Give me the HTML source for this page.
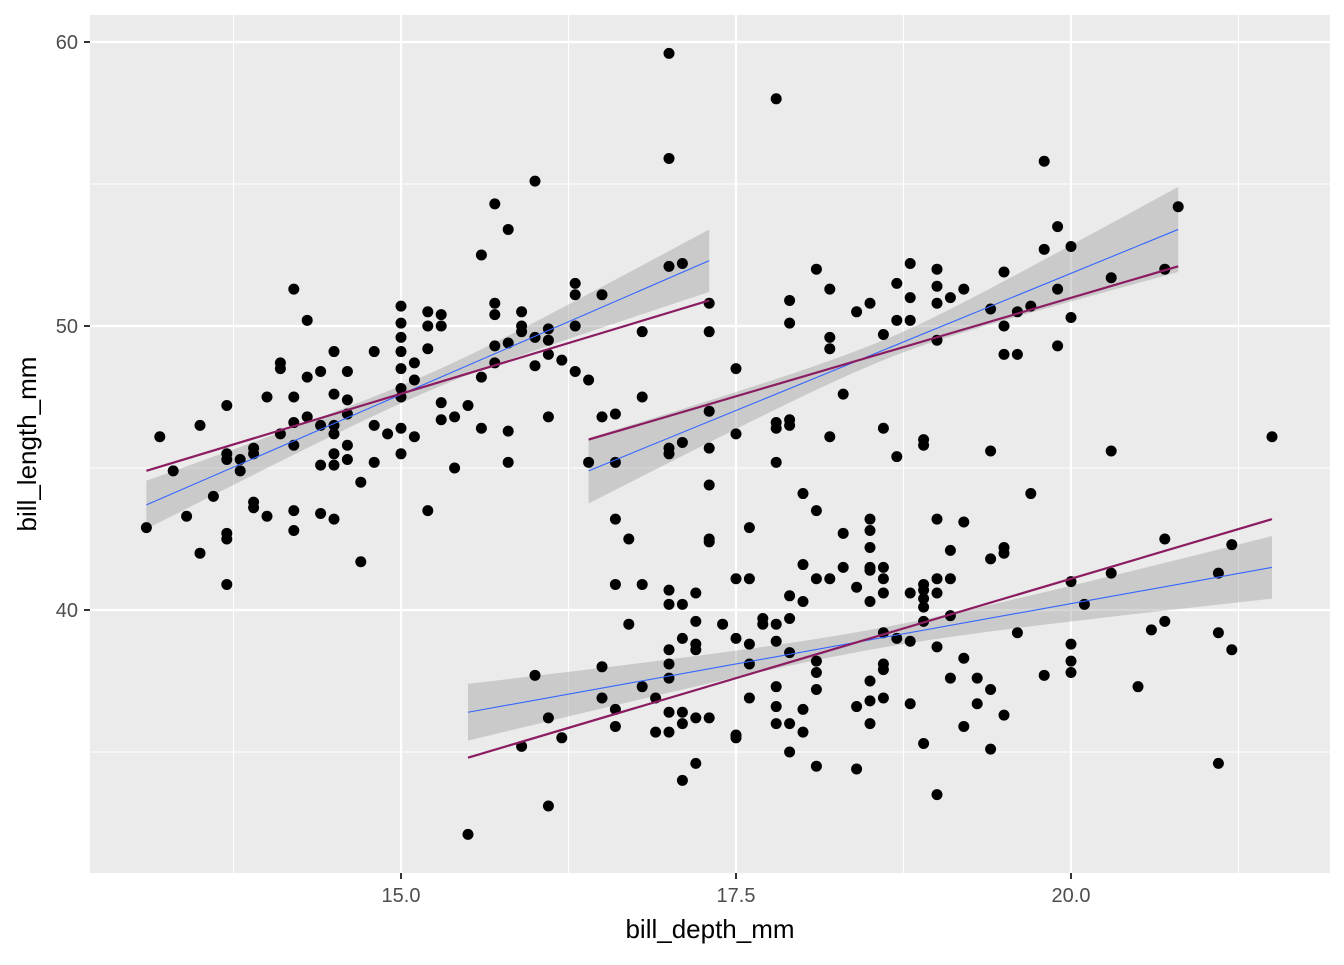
<!DOCTYPE html>
<html><head><meta charset="utf-8"><style>
body{margin:0;background:#fff;}
svg text{font-family:"Liberation Sans",sans-serif;}
</style></head><body>
<svg id="chart" width="1344" height="960" xmlns="http://www.w3.org/2000/svg">
<rect x="90" y="15" width="1240" height="858" fill="#ebebeb"/>
<g id="grid"></g><g id="bands"></g><g id="points"></g><g id="lines"></g><g id="axes"></g>
<text x="710" y="938" text-anchor="middle" font-size="26" fill="#000">bill_depth_mm</text>
<text transform="translate(36,444) rotate(-90)" text-anchor="middle" font-size="26" fill="#000">bill_length_mm</text>
</svg>
<script>
const depth = [13.1,13.2,13.3,13.4,13.5,13.5,13.6,13.7,13.7,13.7,13.7,13.7,13.7,13.8,13.8,13.9,13.9,13.9,13.9,14.0,14.0,14.1,14.1,14.1,14.2,14.2,14.2,14.2,14.2,14.2,14.3,14.3,14.3,14.4,14.4,14.4,14.4,14.5,14.5,14.5,14.5,14.5,14.5,14.5,14.6,14.6,14.6,14.6,14.6,14.7,14.7,14.8,14.8,14.8,14.9,15.0,15.0,15.0,15.0,15.0,15.0,15.0,15.0,15.0,15.1,15.1,15.1,15.2,15.2,15.2,15.2,15.3,15.3,15.3,15.3,15.4,15.4,15.5,15.6,15.6,15.6,15.7,15.7,15.7,15.7,15.7,15.8,15.8,15.8,15.8,15.9,15.9,15.9,16.0,16.0,16.0,16.1,16.1,16.1,16.1,16.2,16.3,16.3,16.3,16.3,16.4,16.5,16.5,16.6,16.8,16.8,17.0,17.1,17.3,17.3,17.0,17.0,
16.4,16.6,17.0,17.0,17.1,17.3,17.3,17.3,17.5,17.5,17.8,17.8,17.8,17.8,17.9,17.9,17.9,17.9,18.1,18.2,18.2,18.2,18.2,18.3,18.4,18.5,18.6,18.6,18.7,18.7,18.7,18.8,18.8,18.8,18.9,18.9,19.0,19.0,19.0,19.0,19.1,19.2,19.4,19.4,19.5,19.5,19.5,19.6,19.6,19.7,19.7,19.8,19.8,19.9,19.9,19.9,20.0,20.0,20.3,20.3,20.7,20.8,21.5,
15.5,15.9,16.0,16.1,16.1,16.2,16.5,16.5,16.6,16.6,16.6,16.6,16.7,16.7,16.8,16.8,16.9,16.9,17.0,17.0,17.0,17.0,17.0,17.0,17.0,17.1,17.1,17.1,17.1,17.1,17.2,17.2,17.2,17.2,17.2,17.2,17.3,17.3,17.3,17.4,17.5,17.5,17.5,17.5,17.6,17.6,17.6,17.6,17.6,17.7,17.7,17.8,17.8,17.8,17.8,17.8,17.9,17.9,17.9,17.9,17.9,18.0,18.0,18.0,18.0,18.0,18.1,18.1,18.1,18.1,18.1,18.1,18.2,18.3,18.3,18.4,18.4,18.4,18.5,18.5,18.5,18.5,18.5,18.5,18.5,18.5,18.5,18.6,18.6,18.6,18.6,18.6,18.6,18.6,18.7,18.8,18.8,18.8,18.9,18.9,18.9,18.9,18.9,18.9,19.0,19.0,19.0,19.0,19.0,19.1,19.1,19.1,19.1,19.2,19.2,19.2,19.3,19.3,19.4,19.4,19.4,19.5,19.5,19.5,19.6,19.8,20.0,20.0,20.0,20.0,20.1,20.3,20.5,20.6,20.7,20.7,21.1,21.1,21.1,21.2,21.2];
const length = [42.9,46.1,44.9,43.3,46.5,42.0,44.0,47.2,45.5,45.3,42.7,42.5,40.9,45.3,44.9,45.7,45.5,43.8,43.6,47.5,43.3,48.7,48.5,46.2,51.3,47.5,46.6,45.8,43.5,42.8,50.2,48.2,46.8,48.4,46.5,45.1,43.4,49.1,47.6,46.5,46.2,45.5,45.1,43.2,48.4,47.4,46.9,45.8,45.3,44.5,41.7,49.1,46.5,45.2,46.2,50.7,50.1,49.6,49.1,48.5,47.8,47.5,46.4,45.5,48.7,48.1,46.1,50.5,50.0,49.2,43.5,50.4,50.0,47.3,46.7,46.8,45.0,47.2,52.5,48.2,46.4,54.3,50.8,50.4,49.3,48.7,53.4,49.4,46.3,45.2,50.5,50.0,49.8,55.1,49.6,48.6,49.9,49.5,49.0,46.8,48.8,51.5,51.1,50.0,48.4,48.1,51.1,46.8,46.9,49.8,47.5,52.1,52.2,50.8,49.8,59.6,55.9,
45.2,45.2,45.7,45.5,45.9,47.0,45.7,44.4,48.5,46.2,58.0,46.6,46.4,45.2,50.9,50.1,46.7,46.5,52.0,51.3,49.6,49.2,46.1,47.6,50.5,50.8,49.7,46.4,51.5,50.2,45.4,52.2,51.0,50.2,46.0,45.8,52.0,51.4,50.8,49.5,51.0,51.3,50.6,45.6,51.9,50.0,49.0,50.5,49.0,50.7,44.1,55.8,52.7,53.5,51.3,49.3,52.8,50.3,51.7,45.6,52.0,54.2,46.1,
32.1,35.2,37.7,36.2,33.1,35.5,38.0,36.9,43.2,40.9,36.5,35.9,42.5,39.5,40.9,37.3,36.9,35.7,40.7,40.2,38.6,38.1,37.6,36.4,35.7,40.2,39.0,36.4,36.0,34.0,40.6,39.6,38.8,38.6,36.2,34.6,42.5,42.4,36.2,39.5,41.1,39.0,35.6,35.5,42.9,41.1,38.8,38.1,36.9,39.7,39.5,39.5,38.9,37.3,36.6,36.0,40.5,39.7,38.5,36.0,35.0,44.1,40.3,41.6,36.5,35.7,43.5,41.1,38.2,37.8,37.2,34.5,41.1,42.7,41.5,40.8,36.6,34.4,43.2,42.8,42.2,41.5,41.4,40.3,37.5,36.8,36.0,41.5,41.1,40.6,39.2,38.1,37.9,36.9,39.0,40.6,38.9,36.7,40.9,40.7,40.4,40.1,39.6,35.3,43.2,41.1,40.6,38.7,33.5,42.1,41.1,39.8,37.6,43.1,38.3,35.9,37.6,36.7,41.8,37.2,35.1,42.2,42.0,36.3,39.2,37.7,41.0,38.8,38.2,37.8,40.2,41.3,37.3,39.3,42.5,39.6,41.3,39.2,34.6,42.3,38.6];
// fitted lines per species group
const groups = ["gentoo","chinstrap","adelie"];
const fitX0 = [13.1,16.4,15.5];
const fitX1 = [17.3,20.8,21.5];
const blueY0 = [43.7,44.9,36.4];
const blueY1 = [52.3,53.4,41.5];
const purpleY0 = [44.9,46.0,34.8];
const purpleY1 = [50.9,52.1,43.2];
const seLeft = [0.85,1.15,1.0];
const seMid = [0.3,0.35,0.35];
const seRight = [1.1,1.5,1.1];
const xTicks = [15.0,17.5,20.0];
const xTickLabels = ["15.0","17.5","20.0"];
const xMinor = [13.75,16.25,18.75,21.25];
const yTicks = [40,50,60];
const yTickLabels = ["40","50","60"];
const yMinor = [35,45,55];

const NS="http://www.w3.org/2000/svg";
const X = v => 401 + (v-15)*134;
const Y = v => 326 - (v-50)*28.4;
function mk(tag, attrs, parent){const e=document.createElementNS(NS,tag);for(const k in attrs)e.setAttribute(k,attrs[k]);document.getElementById(parent).appendChild(e);return e;}

xMinor.forEach(v=>{const e=mk('line',{x1:X(v),x2:X(v),y1:15,y2:873,stroke:'#fff','stroke-width':1},'grid');

});
yMinor.forEach(v=>{const e=mk('line',{x1:90,x2:1330,y1:Y(v),y2:Y(v),stroke:'#fff','stroke-width':1},'grid');

});
xTicks.forEach((v,i)=>{const e=mk('line',{x1:X(v),x2:X(v),y1:15,y2:873,stroke:'#fff','stroke-width':2.2},'grid');


const t=mk('line',{x1:X(v),x2:X(v),y1:873,y2:879,stroke:'#333','stroke-width':2},'axes');


const l=mk('text',{x:X(v),y:902,'text-anchor':'middle','font-size':20,fill:'#4d4d4d'},'axes');l.textContent=xTickLabels[i];

});
yTicks.forEach((v,i)=>{const e=mk('line',{x1:90,x2:1330,y1:Y(v),y2:Y(v),stroke:'#fff','stroke-width':2.2},'grid');


const t=mk('line',{x1:84,x2:90,y1:Y(v),y2:Y(v),stroke:'#333','stroke-width':2},'axes');


const l=mk('text',{x:78,y:Y(v)+7,'text-anchor':'end','font-size':20,fill:'#4d4d4d'},'axes');l.textContent=yTickLabels[i];

});

groups.forEach((g,i)=>{
  const x0=fitX0[i],x1=fitX1[i],xm=(x0+x1)/2;
  const f=x=>blueY0[i]+(blueY1[i]-blueY0[i])*(x-x0)/(x1-x0);
  const kL=Math.sqrt(Math.max(0,seLeft[i]**2-seMid[i]**2))/(xm-x0);
  const kR=Math.sqrt(Math.max(0,seRight[i]**2-seMid[i]**2))/(x1-xm);
  const se=x=>{const k=x<xm?kL:kR;return Math.sqrt(seMid[i]**2+k*k*(x-xm)**2);};
  const up=[],lo=[];
  for(let s=0;s<=40;s++){const x=x0+(x1-x0)*s/40;up.push(X(x)+','+Y(f(x)+se(x)));lo.unshift(X(x)+','+Y(f(x)-se(x)));}
  const b=mk('polygon',{points:up.concat(lo).join(' '),fill:'#999','fill-opacity':0.4},'bands');
  
  
  const bl=mk('line',{x1:X(x0),y1:Y(blueY0[i]),x2:X(x1),y2:Y(blueY1[i]),stroke:'#3366ff','stroke-width':1.1},'lines');
  
  
  const pl=mk('line',{x1:X(x0),y1:Y(purpleY0[i]),x2:X(x1),y2:Y(purpleY1[i]),stroke:'#8b1c62','stroke-width':2.2},'lines');
  
  
});
depth.forEach((d,i)=>{const c=mk('circle',{cx:X(d),cy:Y(length[i]),r:5.5,fill:'#000'},'points');

});
</script>
</body></html>
